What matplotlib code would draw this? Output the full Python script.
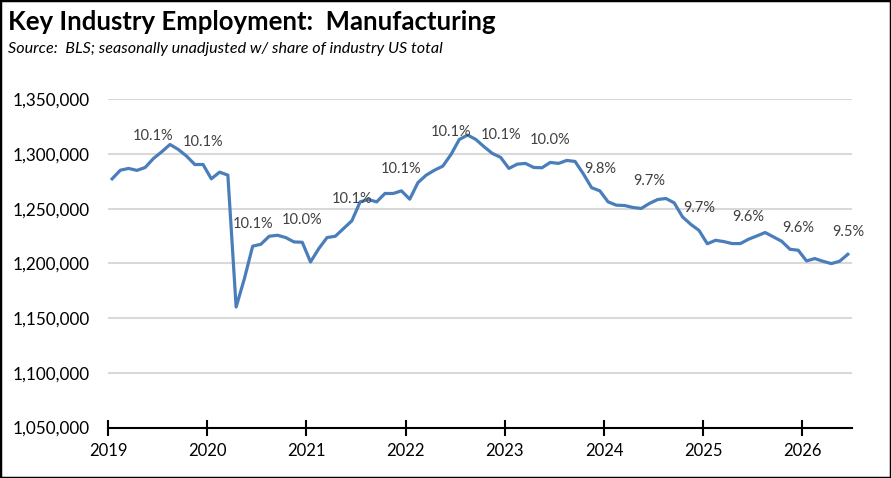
import matplotlib.pyplot as plt
from matplotlib.patches import Rectangle
from matplotlib.ticker import FuncFormatter
import numpy as np

plt.rcParams['font.family'] = ['Lato', 'DejaVu Sans']

# monthly employment, Jan 2019 onwards
employment = [
    1277400, 1285300, 1286900, 1285100, 1287800, 1296000, 1302100, 1308800,
    1304300, 1298200, 1290500, 1290500, 1277400, 1283500, 1280800, 1160200,
    1186100, 1215800, 1217600, 1224900, 1225800, 1223700, 1219700, 1219400,
    1201400, 1213600, 1223700, 1224900, 1232000, 1239000, 1256300, 1258500,
    1256300, 1264000, 1264000, 1266400, 1258800, 1274000, 1280800, 1285300,
    1289000, 1299700, 1313400, 1317400, 1313400, 1306700, 1300600, 1297000,
    1286900, 1290800, 1291500, 1287800, 1287500, 1292400, 1291500, 1294200,
    1293300, 1282000, 1269300, 1266400, 1256300, 1253300, 1253000, 1251200,
    1250300, 1254900, 1258500, 1259400, 1255400, 1242600, 1235800, 1230200,
    1218000, 1221200, 1220000, 1218200, 1218200, 1222200, 1225200, 1228300,
    1224300, 1220300, 1213000, 1212100, 1202300, 1204500, 1202000, 1199900,
    1202000, 1208400,
]

# share of US industry total, labelled every 6 months
share_idx = [5, 11, 17, 23, 29, 35, 41, 47, 53, 59, 65, 71, 77, 83, 89]
share_lbl = ['10.1%', '10.1%', '10.1%', '10.0%', '10.1%', '10.1%', '10.1%', '10.1%',
             '10.0%', '9.8%', '9.7%', '9.7%', '9.6%', '9.6%', '9.5%']

year_labels = ['2019', '2020', '2021', '2022', '2023', '2024', '2025', '2026']

x = np.arange(len(employment)) + 0.5

fig = plt.figure(figsize=(8.91, 4.78), dpi=100)
ax = fig.add_axes([0.1212, 0.1056, 0.8350, 0.6864])

ax.plot(x, employment, color='#4a7ebb', lw=2.3, solid_joinstyle='round')

for i, lbl in zip(share_idx, share_lbl):
    ax.annotate(lbl, (x[i], employment[i]), xytext=(0, 22), textcoords='offset pixels',
                ha='center', va='center', fontsize=10.5, color='#404040')

ax.set_xlim(0, 90)
ax.set_ylim(1050000, 1350000)
ax.set_yticks(np.arange(1050000, 1350001, 50000))
ax.yaxis.set_major_formatter(FuncFormatter(lambda v, p: f'{int(v):,}'))
ax.set_xticks(np.arange(0, 85, 12))
ax.set_xticklabels(year_labels)

ax.grid(axis='y', color='#d9d9d9', lw=1.5)
ax.set_axisbelow(True)
for s in ['left', 'right', 'top']:
    ax.spines[s].set_visible(False)
ax.spines['bottom'].set_linewidth(1.5)
ax.spines['bottom'].set_zorder(5)
ax.tick_params(axis='y', length=0, labelsize=12.3, pad=13, colors='black')
ax.tick_params(axis='x', direction='inout', length=11, width=1.5, labelsize=12, pad=6)

fig.text(0.009, 0.953, 'Key Industry Employment:  Manufacturing', fontsize=18.5,
         fontweight='bold', va='center', ha='left')
fig.text(0.009, 0.897, 'Source:  BLS; seasonally unadjusted w/ share of industry US total',
         fontsize=11.6, style='italic', va='center', ha='left')

fig.patches.append(Rectangle((0, 0), 1, 1, transform=fig.transFigure, fill=False,
                             edgecolor='black', lw=2.5))

fig.savefig('out.png', dpi=100)
